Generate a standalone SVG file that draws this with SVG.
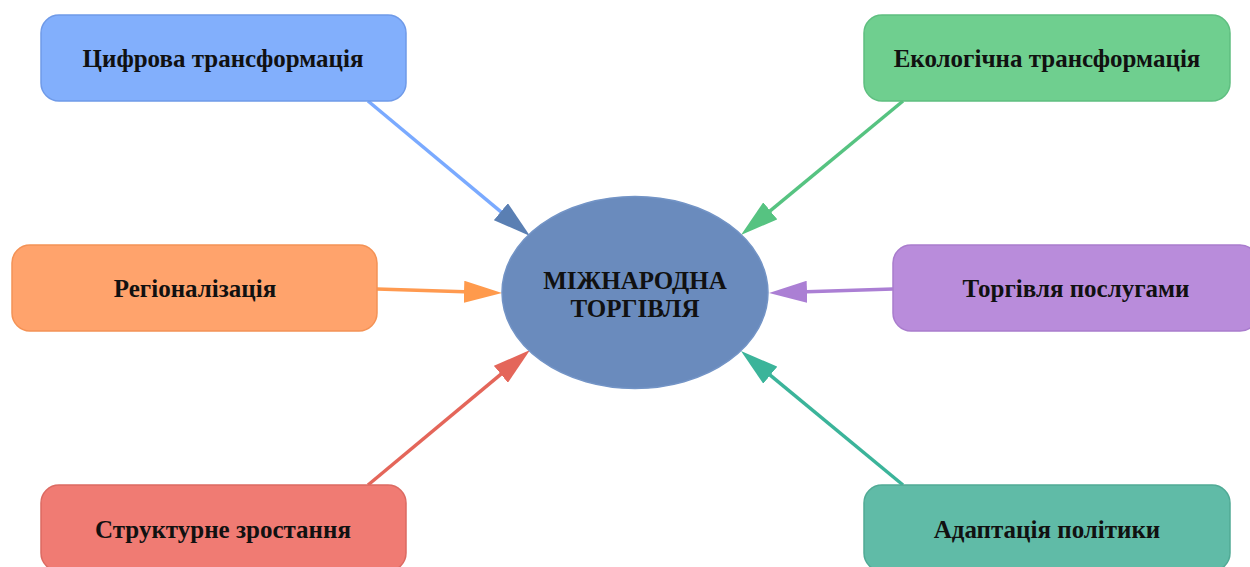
<svg xmlns="http://www.w3.org/2000/svg" width="1250" height="567" viewBox="0 0 1250 567">
<style>
.lbl{font-family:"Liberation Serif","Times New Roman",serif;font-weight:bold;font-size:25px;fill:#111;text-anchor:middle}
.box{stroke-width:1.5}
.ln{fill:none;stroke-width:3.5}
</style>
<defs>
<marker id="mBlue" viewBox="0 0 38 22" refX="8" refY="11" markerUnits="userSpaceOnUse" markerWidth="38" markerHeight="22" orient="auto"><path d="M0,0L38,11L0,22z" fill="#5a7fb3"/></marker>
<marker id="mOrange" viewBox="0 0 38 22" refX="8" refY="11" markerUnits="userSpaceOnUse" markerWidth="38" markerHeight="22" orient="auto"><path d="M0,0L38,11L0,22z" fill="#ff9a4c"/></marker>
<marker id="mRed" viewBox="0 0 38 22" refX="8" refY="11" markerUnits="userSpaceOnUse" markerWidth="38" markerHeight="22" orient="auto"><path d="M0,0L38,11L0,22z" fill="#e4665a"/></marker>
<marker id="mGreen" viewBox="0 0 38 22" refX="8" refY="11" markerUnits="userSpaceOnUse" markerWidth="38" markerHeight="22" orient="auto"><path d="M0,0L38,11L0,22z" fill="#56c381"/></marker>
<marker id="mPurple" viewBox="0 0 38 22" refX="8" refY="11" markerUnits="userSpaceOnUse" markerWidth="38" markerHeight="22" orient="auto"><path d="M0,0L38,11L0,22z" fill="#ab7fd4"/></marker>
<marker id="mTeal" viewBox="0 0 38 22" refX="8" refY="11" markerUnits="userSpaceOnUse" markerWidth="38" markerHeight="22" orient="auto"><path d="M0,0L38,11L0,22z" fill="#3bb49a"/></marker>
</defs>
<rect width="1250" height="567" fill="#ffffff"/>
<g id="connectors">
<line class="ln" x1="368" y1="101" x2="507" y2="216.8" stroke="#7aaaff" marker-end="url(#mBlue)"/>
<line class="ln" x1="377" y1="289" x2="472" y2="292" stroke="#ff9a50" marker-end="url(#mOrange)"/>
<line class="ln" x1="368" y1="485" x2="507" y2="369.2" stroke="#e4665a" marker-end="url(#mRed)"/>
<line class="ln" x1="903" y1="101" x2="764.1" y2="215.9" stroke="#56c381" marker-end="url(#mGreen)"/>
<line class="ln" x1="893" y1="289" x2="799" y2="292" stroke="#ab7fd4" marker-end="url(#mPurple)"/>
<line class="ln" x1="903" y1="485" x2="764.1" y2="370.1" stroke="#3bb49a" marker-end="url(#mTeal)"/>
</g>
<g id="center">
<ellipse cx="635" cy="292.5" rx="133" ry="96" fill="#6a8bbd" stroke="#7394c6" stroke-width="1.5"/>
<text class="lbl" x="635" y="289">МІЖНАРОДНА</text>
<text class="lbl" x="635" y="317">ТОРГІВЛЯ</text>
</g>
<g id="n-digital">
<rect class="box" x="41" y="15" width="365" height="86" rx="18" fill="#82affc" stroke="#6f9ae8"/>
<text class="lbl" x="223" y="67">Цифрова трансформація</text>
</g>
<g id="n-regional">
<rect class="box" x="12" y="245" width="365" height="86" rx="18" fill="#ffa36c" stroke="#f49255"/>
<text class="lbl" x="195" y="297">Регіоналізація</text>
</g>
<g id="n-structural">
<rect class="box" x="41" y="485" width="365" height="86" rx="18" fill="#f07b73" stroke="#dc6a62"/>
<text class="lbl" x="223" y="538">Структурне зростання</text>
</g>
<g id="n-eco">
<rect class="box" x="864" y="15" width="366" height="86" rx="18" fill="#6fcf8f" stroke="#5fbf80"/>
<text class="lbl" x="1047" y="67">Екологічна трансформація</text>
</g>
<g id="n-services">
<rect class="box" x="893" y="245" width="365" height="86" rx="18" fill="#b98cdb" stroke="#a97ccd"/>
<text class="lbl" x="1076" y="297">Торгівля послугами</text>
</g>
<g id="n-policy">
<rect class="box" x="864" y="485" width="366" height="86" rx="18" fill="#60bba7" stroke="#50aa95"/>
<text class="lbl" x="1047" y="538">Адаптація політики</text>
</g>
</svg>
